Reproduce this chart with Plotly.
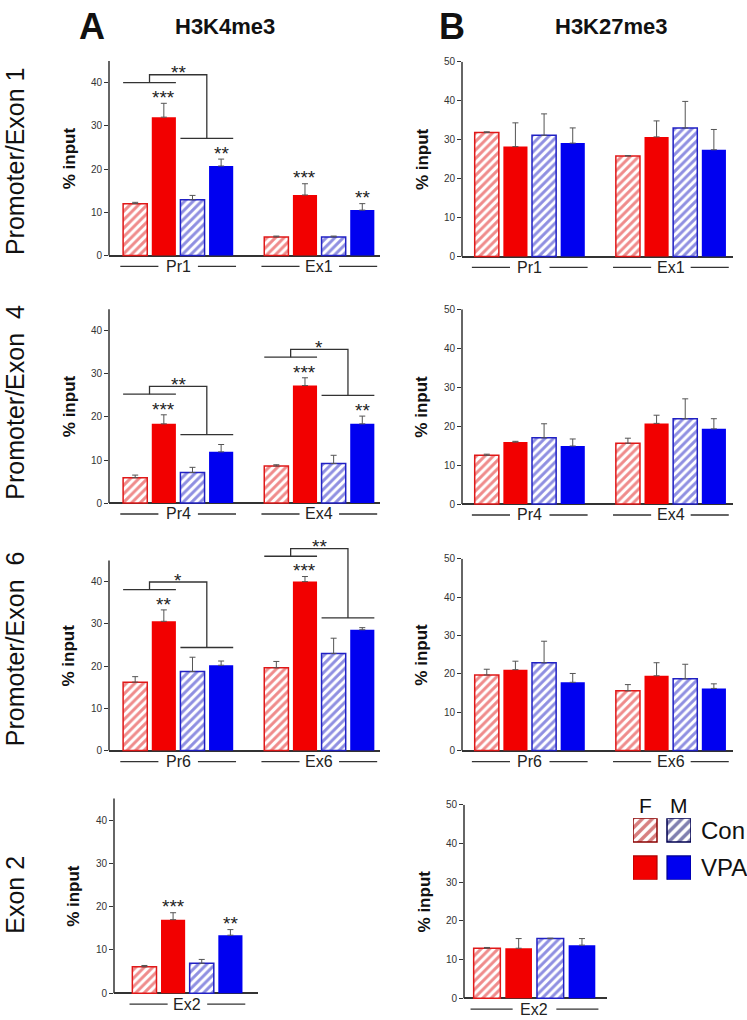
import plotly.graph_objects as go

W, H = 747, 1020
FONT = "Liberation Sans, Arial, sans-serif"

# bar order inside every region: F Con, F VPA, M Con, M VPA
series = ["F Con", "F VPA", "M Con", "M VPA"]

# H3K4me3 (% input), mean and upper error
k4_pr1 = [12.0, 32.0, 12.9, 20.7]
k4_pr1_sem = [0.3, 3.2, 1.0, 1.6]
k4_ex1 = [4.3, 14.0, 4.3, 10.5]
k4_ex1_sem = [0.2, 2.6, 0.2, 1.5]
k4_pr4 = [5.9, 18.4, 7.1, 11.9]
k4_pr4_sem = [0.6, 2.1, 1.2, 1.7]
k4_ex4 = [8.6, 27.3, 9.2, 18.4]
k4_ex4_sem = [0.3, 1.8, 1.9, 1.8]
k4_pr6 = [16.2, 30.6, 18.7, 20.2]
k4_pr6_sem = [1.3, 2.7, 3.4, 1.0]
k4_ex6 = [19.6, 40.0, 23.0, 28.6]
k4_ex6_sem = [1.5, 1.2, 3.6, 0.5]
k4_ex2 = [6.1, 17.0, 6.9, 13.4]
k4_ex2_sem = [0.3, 1.6, 0.9, 1.3]

# significance vs. Con, per bar
k4_pr1_sig = ["", "***", "", "**"]
k4_ex1_sig = ["", "***", "", "**"]
k4_pr4_sig = ["", "***", "", ""]
k4_ex4_sig = ["", "***", "", "**"]
k4_pr6_sig = ["", "**", "", ""]
k4_ex6_sig = ["", "***", "", ""]
k4_ex2_sig = ["", "***", "", "**"]

# sex x treatment comparison brackets
sex_regions = ["Pr1", "Pr4", "Ex4", "Pr6", "Ex6"]
sex_sig = ["**", "**", "*", "*", "**"]

# H3K27me3 (% input)
k27_pr1 = [31.8, 28.2, 31.1, 29.1]
k27_pr1_sem = [0.2, 6.1, 5.5, 3.9]
k27_ex1 = [25.8, 30.7, 33.0, 27.4]
k27_ex1_sem = [0.1, 4.1, 6.8, 5.2]
k27_pr4 = [12.5, 15.9, 17.0, 14.9]
k27_pr4_sem = [0.3, 0.2, 3.6, 1.8]
k27_ex4 = [15.6, 20.7, 21.9, 19.3]
k27_ex4_sem = [1.3, 2.1, 5.1, 2.6]
k27_pr6 = [19.7, 21.1, 22.9, 17.8]
k27_pr6_sem = [1.5, 2.2, 5.6, 2.3]
k27_ex6 = [15.6, 19.5, 18.7, 16.2]
k27_ex6_sem = [1.6, 3.4, 3.8, 1.2]
k27_ex2 = [12.9, 12.9, 15.4, 13.7]
k27_ex2_sem = [0.2, 2.5, 0.1, 1.7]

row_labels = ["Promoter/Exon 1", "Promoter/Exon\u00a0 4", "Promoter/Exon\u00a0 6", "Exon 2"]
legend_sex = ["F", "M"]
legend_treat = ["Con", "VPA"]

k4 = {
    "Pr1": (k4_pr1, k4_pr1_sem, k4_pr1_sig), "Ex1": (k4_ex1, k4_ex1_sem, k4_ex1_sig),
    "Pr4": (k4_pr4, k4_pr4_sem, k4_pr4_sig), "Ex4": (k4_ex4, k4_ex4_sem, k4_ex4_sig),
    "Pr6": (k4_pr6, k4_pr6_sem, k4_pr6_sig), "Ex6": (k4_ex6, k4_ex6_sem, k4_ex6_sig),
    "Ex2": (k4_ex2, k4_ex2_sem, k4_ex2_sig),
}
k27 = {
    "Pr1": (k27_pr1, k27_pr1_sem, None), "Ex1": (k27_ex1, k27_ex1_sem, None),
    "Pr4": (k27_pr4, k27_pr4_sem, None), "Ex4": (k27_ex4, k27_ex4_sem, None),
    "Pr6": (k27_pr6, k27_pr6_sem, None), "Ex6": (k27_ex6, k27_ex6_sem, None),
    "Ex2": (k27_ex2, k27_ex2_sem, None),
}

# styles
solid = ["#ffffff", "#f20000", "#ffffff", "#0000f0"]
hatch = ["#e01818", None, "#2020c4", None]
SLOT = 0.203
BW = 0.171

# panel geometry in pixels
panels = [
    dict(d=k4, regions=["Pr1", "Ex1"], xpx=(109, 380), xr=(-0.49, 1.43), zero=251, ppu=4.35, top=45),
    dict(d=k27, regions=["Pr1", "Ex1"], xpx=(462, 733), xr=(-0.48, 1.44), zero=252, ppu=3.92, top=50),
    dict(d=k4, regions=["Pr4", "Ex4"], xpx=(109, 380), xr=(-0.49, 1.43), zero=500, ppu=4.33, top=45),
    dict(d=k27, regions=["Pr4", "Ex4"], xpx=(462, 733), xr=(-0.48, 1.44), zero=501, ppu=3.92, top=50),
    dict(d=k4, regions=["Pr6", "Ex6"], xpx=(109, 380), xr=(-0.49, 1.43), zero=749, ppu=4.25, top=45),
    dict(d=k27, regions=["Pr6", "Ex6"], xpx=(462, 733), xr=(-0.48, 1.44), zero=749, ppu=3.86, top=50),
    dict(d=k4, regions=["Ex2"], xpx=(114, 258), xr=(-0.52, 0.50), zero=993, ppu=4.35, top=45),
    dict(d=k27, regions=["Ex2"], xpx=(464, 607), xr=(-0.452, 0.465), zero=998, ppu=3.89, top=50),
]


def pp(x, y):
    return x / W, 1 - y / H


fig = go.Figure()
shapes, annos = [], []
line_col = "#333333"

for n, p in enumerate(panels, start=1):
    sfx = "" if n == 1 else str(n)
    xa, ya = "x" + sfx, "y" + sfx
    ylow = -min(6.0, (H - p["zero"]) / p["ppu"] - 0.2)
    y_bot = p["zero"] - ylow * p["ppu"]
    y_top = p["zero"] - 50 * p["ppu"]
    fig.layout["xaxis" + sfx] = dict(domain=[p["xpx"][0] / W, p["xpx"][1] / W], range=list(p["xr"]),
                                     anchor=ya, visible=False, fixedrange=True)
    fig.layout["yaxis" + sfx] = dict(domain=[1 - y_bot / H, 1 - y_top / H], range=[ylow, 50], anchor=xa,
                                     showgrid=False, showline=False, zeroline=True,
                                     zerolinecolor=line_col, zerolinewidth=1.5,
                                     tickvals=list(range(0, p["top"] + 1, 10)), ticks="outside",
                                     ticklen=4, tickwidth=1.2, tickcolor=line_col,
                                     tickfont=dict(size=10, color="#333", family=FONT), fixedrange=True)
    regions = p["regions"]
    d = p["d"]
    for j in range(4):
        xs = [g + (j - 1.5) * SLOT for g in range(len(regions))]
        ys = [d[r][0][j] for r in regions]
        es = [d[r][1][j] for r in regions]
        if hatch[j]:
            marker = dict(color="white", line=dict(color=hatch[j], width=1.5),
                          pattern=dict(shape="/", fgcolor=hatch[j], bgcolor="white", size=6, solidity=0.5))
        else:
            marker = dict(color=solid[j], line=dict(width=0))
        fig.add_trace(go.Bar(x=xs, y=ys, width=BW, marker=marker, name=series[j], showlegend=False,
                             error_y=dict(type="data", array=es, arrayminus=[0] * len(es), symmetric=False,
                                          color="#555", thickness=1, width=3),
                             xaxis=xa, yaxis=ya))

    # y axis line
    shapes.append(dict(type="line", xref=xa + " domain", yref=ya, x0=0, x1=0, y0=0, y1=p["top"],
                       line=dict(color=line_col, width=1.5)))
    # % input
    annos.append(dict(text="<b>% input</b>", xref=xa + " domain", yref=ya, x=0, y=p["top"] / 2,
                      xanchor="center", yanchor="middle",
                      xshift=-40, textangle=-90, showarrow=False, font=dict(size=17, color="#111", family=FONT)))
    # region labels with side lines
    ylab = -11 / p["ppu"]
    for g, r in enumerate(regions):
        for a, b in ((g - 0.41, g - 0.14), (g + 0.14, g + 0.41)):
            shapes.append(dict(type="line", xref=xa, yref=ya, x0=a, x1=b, y0=ylab, y1=ylab,
                               line=dict(color=line_col, width=1.3)))
        annos.append(dict(text=r, xref=xa, yref=ya, x=g, y=ylab, xanchor="center", yanchor="middle",
                          showarrow=False, font=dict(size=16, color="#222", family=FONT)))
        means, sems, sig = d[r]
        tops = [m + s for m, s in zip(means, sems)]
        star_y = [t + 2.5 if (sig and sig[j]) else t for j, t in enumerate(tops)]
        if sig:
            for j in range(4):
                if sig[j]:
                    annos.append(dict(text=sig[j], xref=xa, yref=ya, x=g + (j - 1.5) * SLOT, y=star_y[j],
                                      xanchor="center", yanchor="middle", yshift=-5, showarrow=False,
                                      font=dict(size=19, color="#222", family=FONT)))
            if r in sex_regions:
                lab = sex_sig[sex_regions.index(r)]
                f_lvl = max(star_y[0], star_y[1]) + 2.3
                m_lvl = max(star_y[2], star_y[3]) + 2.3
                peak = f_lvl + 1.8
                fa, fb = g - 1.5 * SLOT - BW / 2, g - 0.5 * SLOT + BW / 2
                ma, mb = g + 0.5 * SLOT - BW / 2, g + 1.5 * SLOT + BW / 2
                xl, xr = (fa + fb) / 2, (ma + mb) / 2
                shapes.append(dict(type="line", xref=xa, yref=ya, x0=fa, x1=fb, y0=f_lvl, y1=f_lvl,
                                   line=dict(color=line_col, width=1.3)))
                shapes.append(dict(type="line", xref=xa, yref=ya, x0=ma, x1=mb, y0=m_lvl, y1=m_lvl,
                                   line=dict(color=line_col, width=1.3)))
                shapes.append(dict(type="path", xref=xa, yref=ya,
                                   path=f"M {xl},{f_lvl} L {xl},{peak} L {xr},{peak} L {xr},{m_lvl}",
                                   line=dict(color=line_col, width=1.3)))
                annos.append(dict(text=lab, xref=xa, yref=ya, x=(xl + xr) / 2, y=peak, yshift=2,
                                  xanchor="center", yanchor="middle",
                                  showarrow=False, font=dict(size=19, color="#222", family=FONT)))

# legend block as a tiny bar subplot
fig.layout["xaxis9"] = dict(domain=[633 / W, 691 / W], range=[-0.353, 1.353], anchor="y9", visible=False,
                            fixedrange=True)
fig.layout["yaxis9"] = dict(domain=[1 - 879 / H, 1 - 817 / H], range=[-0.316, 1.316], anchor="x9", visible=False,
                            fixedrange=True)
fig.add_trace(go.Bar(x=[0, 1], y=[0.632, 0.632], base=[1 - 0.316] * 2, width=0.706, showlegend=False,
                     marker=dict(color="white", line=dict(color=["#8a0000", "#000050"], width=1.5),
                                 pattern=dict(shape="/", fgcolor=["#b00000", "#000060"], bgcolor="white",
                                              size=7, solidity=0.5)),
                     xaxis="x9", yaxis="y9"))
fig.add_trace(go.Bar(x=[0, 1], y=[0.632, 0.632], base=[-0.316] * 2, width=0.706, showlegend=False,
                     marker=dict(color=["#f20000", "#0000f0"], line=dict(color=["#b00000", "#000090"], width=1.2)),
                     xaxis="x9", yaxis="y9"))
for i, t in enumerate(legend_sex):
    annos.append(dict(text=t, xref="x9", yref="paper", x=i, y=pp(0, 804)[1], xanchor="center",
                      yanchor="middle", showarrow=False, font=dict(size=21, color="#111", family=FONT)))
for i, t in enumerate(legend_treat):
    x, y = pp(699, 829 + 38 * i)
    annos.append(dict(text=t, xref="paper", yref="paper", x=x, y=y, xanchor="left", yanchor="middle",
                      showarrow=False, font=dict(size=24, color="#111", family=FONT)))

# column titles
for txt, xp, size in (("<b>A</b>", 92, 36), ("<b>H3K4me3</b>", 225, 22),
                      ("<b>B</b>", 452, 36), ("<b>H3K27me3</b>", 611, 22)):
    x, y = pp(xp, 21)
    annos.append(dict(text=txt, xref="paper", yref="paper", x=x, y=y, xanchor="center", yanchor="middle",
                      showarrow=False, font=dict(size=size, color="#111", family=FONT)))

# row titles
for txt, yp in zip(row_labels, [156, 399, 647, 894]):
    x, y = pp(15, yp)
    annos.append(dict(text=txt, xref="paper", yref="paper", x=x, y=y, xanchor="center", yanchor="middle",
                      textangle=-90, showarrow=False, font=dict(size=25, color="#111", family=FONT)))

fig.update_layout(width=W, height=H, margin=dict(l=0, r=0, t=0, b=0), paper_bgcolor="white",
                  plot_bgcolor="rgba(0,0,0,0)", barmode="overlay", shapes=shapes, annotations=annos,
                  showlegend=False, font=dict(family=FONT))
fig.write_html("out.html", config={"displayModeBar": False},
               post_script="document.body.style.margin='0px';")
